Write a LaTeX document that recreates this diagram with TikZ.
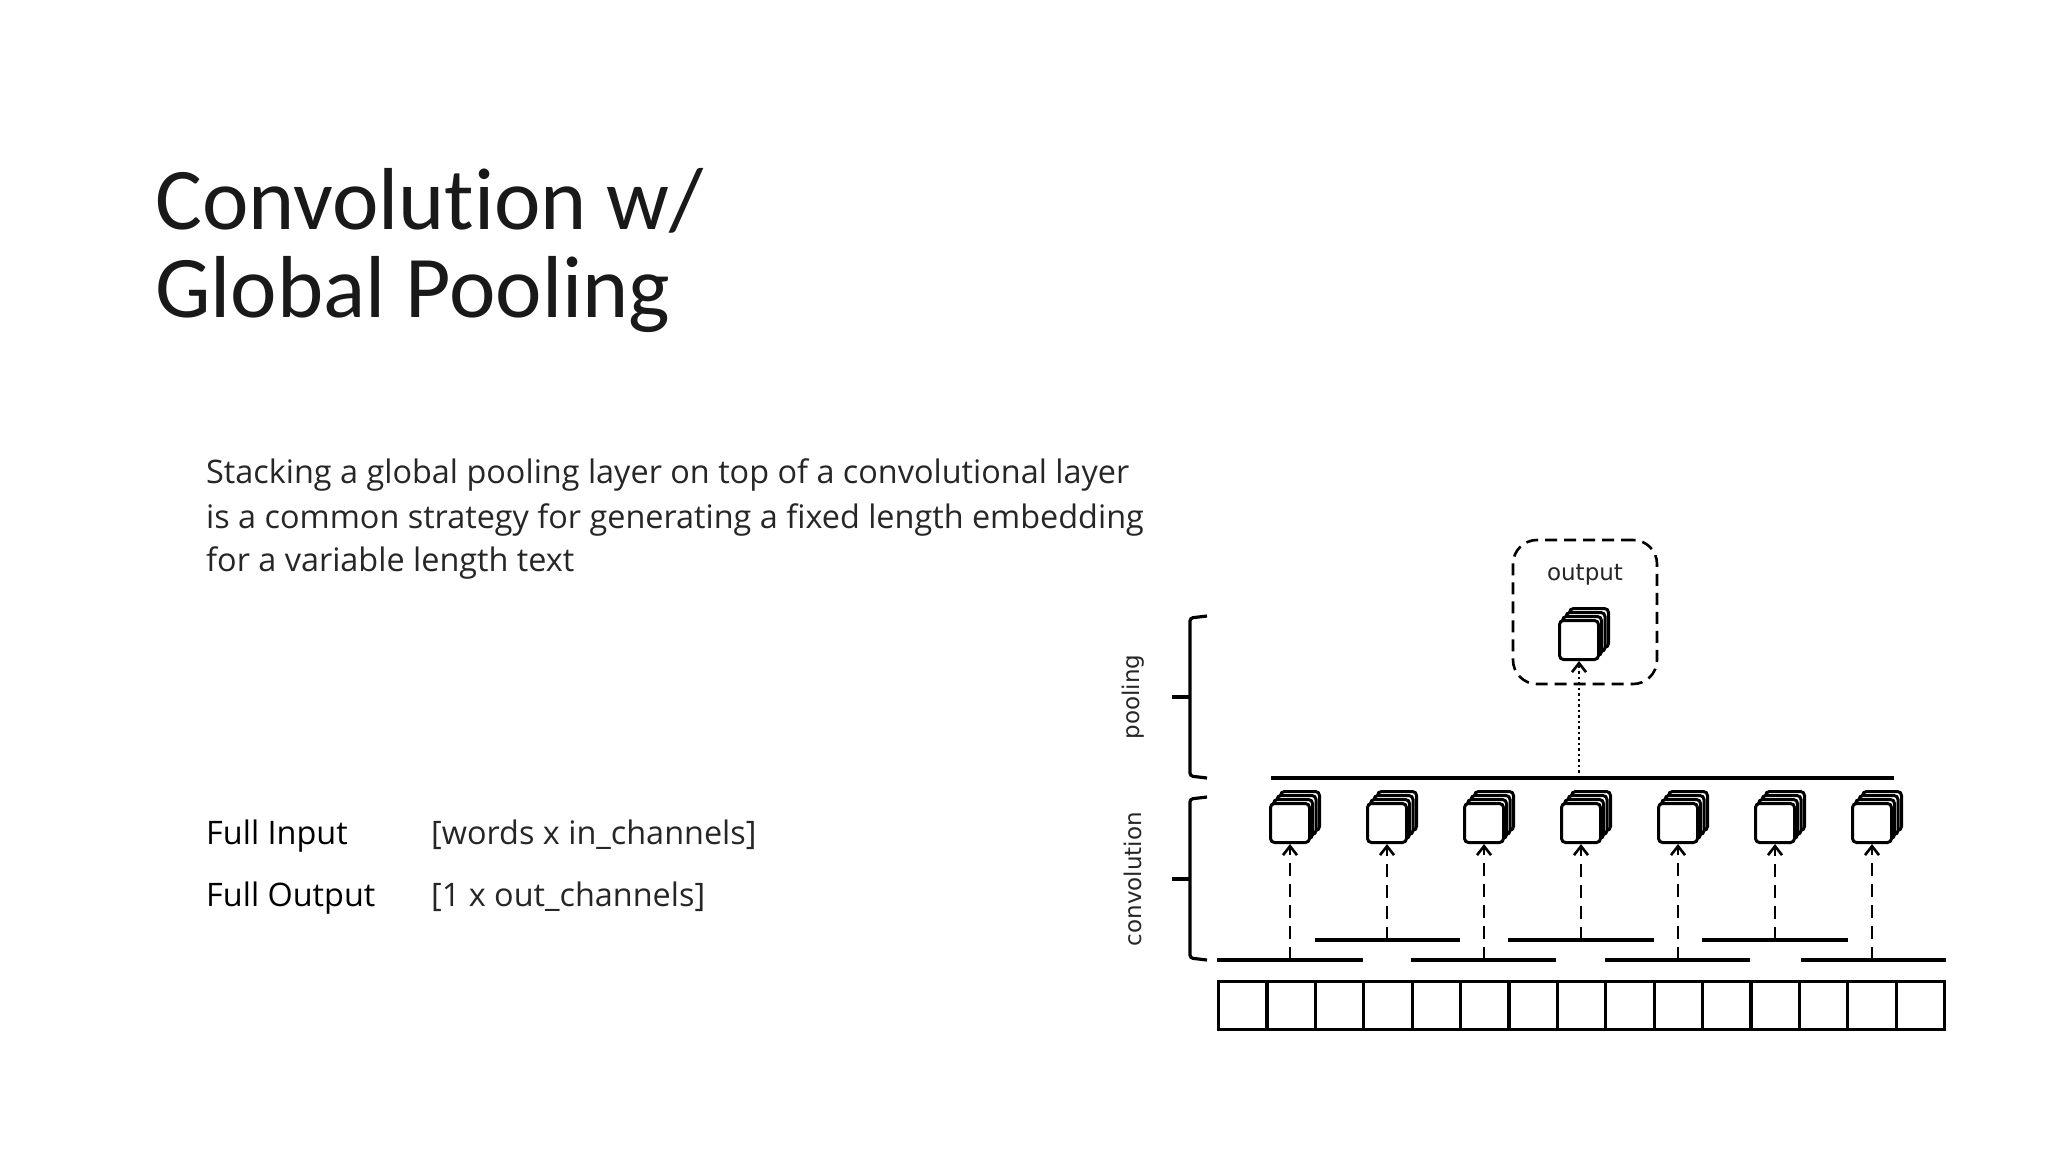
\documentclass[tikz,border=0pt]{standalone}
\usepackage{fontspec}
\setmainfont{Carlito}[Ligatures=NoCommon]
\newfontfamily\bodyfont{Open Sans}
\newfontfamily\labfont{DejaVu Sans}
\usetikzlibrary{arrows.meta}
\begin{document}
\begin{tikzpicture}[x=1pt,y=-1pt,
  txt/.style={anchor=base west,inner sep=0pt,font=\bodyfont\fontsize{32.4}{40}\selectfont,text=black!85},
  ln/.style={line width=3.4pt},
  cube/.style={draw,line width=3pt,fill=white,rounded corners=4pt,minimum size=39pt,inner sep=0pt},
  tip/.style={-{Straight Barb[length=9pt,width=14pt,line width=2.6pt]}},
  arr/.style={line width=2.6pt,dash pattern=on 13pt off 8pt,tip},
  brace/.style={line width=3.2pt,rounded corners=3pt},
  lab/.style={rotate=90,font=\labfont\fontsize{23}{26}\selectfont,text=black!85}]
\useasboundingbox (0,0) rectangle (2048,1152);
\node[anchor=base west,inner sep=0pt,font=\fontsize{88}{100}\selectfont,text=black!90] (t1) at (155,229) {Convolution w/};
\node[anchor=base west,inner sep=0pt,font=\fontsize{88}{100}\selectfont,text=black!90] (t2) at (155,317) {Global Pooling};
\node[txt] (b1) at (206,483) {Stacking a global pooling layer on top of a convolutional layer};
\node[txt] (b2) at (206,528) {is a common strategy for generating a fixed length embedding};
\node[txt] (b3) at (206,571) {for a variable length text};
\node[txt,text=black] (fi) at (206,844) {Full Input};
\node[txt] (fiv) at (431,844) {[words x in\_channels]};
\node[txt,text=black] (fo) at (206,906) {Full Output};
\node[txt] (fov) at (431,906) {[1 x out\_channels]};
% input cells
\foreach \i in {0,...,14}{
  \node[draw,line width=3.2pt,minimum width=48.4pt,minimum height=48pt,inner sep=0pt,anchor=north west] (c\i) at (1217+48.4*\i,980) {};}
% lower and upper bars
\foreach \a/\b in {1217/1363,1411/1556,1605/1750,1801/1946}{\draw[ln] (\a,960) -- (\b,960);}
\foreach \a/\b in {1315/1460,1508/1654,1702/1848}{\draw[ln] (\a,940) -- (\b,940);}
% cubes
\foreach \k/\x in {1/1290,2/1387,3/1484,4/1581,5/1678,6/1775,7/1872}{
  \node[cube] at (\x+10,811) {};
  \node[cube] at (\x+6.5,815) {};
  \node[cube] at (\x+3,819) {};
  \node[cube] (q\k) at (\x,823) {};
  \pgfmathsetmacro{\yb}{mod(\k,2)==1 ? 960 : 940}
  \coordinate (s\k) at (\x,\yb);
  \draw[arr] (s\k) -- (q\k.south);
}
\draw[ln] (1271,778) coordinate (pl) -- (1894,778) coordinate (pr);
% output
\node[draw,line width=2.6pt,dash pattern=on 12pt off 7pt,rounded corners=24pt,minimum width=144pt,minimum height=144pt] (ob) at (1585,612) {};
\node[font=\labfont\fontsize{23}{26}\selectfont,text=black!85] (ot) at (1585,575) {output};
\node[cube] at (1589,628) {};
\node[cube] at (1585.5,632) {};
\node[cube] at (1582,636) {};
\node[cube] (oc) at (1579,640) {};
\coordinate (pm) at (1579,778);
\draw[line width=2.6pt,dash pattern=on 2.5pt off 3pt,tip] (pm) -- (oc.south);
% braces
\draw[brace] (1207,616) -- (1190,618) -- (1190,776) -- (1207,778);
\draw[brace] (1190,697) -- (1172,697);
\draw[brace] (1207,797) -- (1190,799) -- (1190,958) -- (1207,960);
\draw[brace] (1190,879) -- (1172,879);
\node[lab] (pl1) at (1133,697) {pooling};
\node[lab] (pl2) at (1133,879) {convolution};
\end{tikzpicture}
\end{document}
